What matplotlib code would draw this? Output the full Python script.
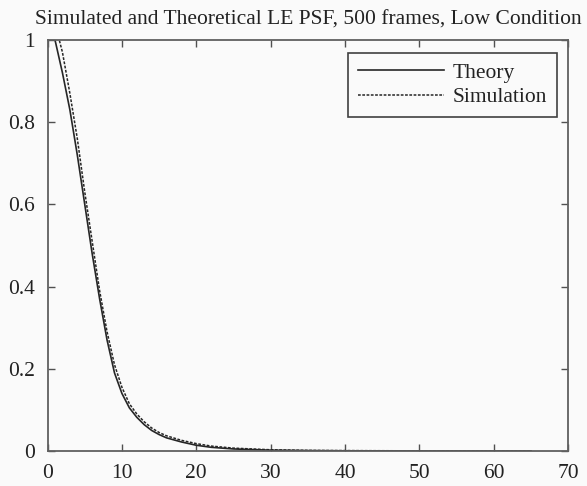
import matplotlib
matplotlib.use("Agg")
import matplotlib.pyplot as plt

theory_x = [0, 1, 2, 3, 4, 5, 6, 7, 8, 9, 10, 11, 12, 13, 14, 15, 16, 18, 20, 22, 25, 30, 35, 40, 50, 65]
theory_y = [1.06, 1.0, 0.92, 0.83, 0.72, 0.60, 0.48, 0.37, 0.27, 0.19, 0.14, 0.105, 0.082, 0.064,
            0.05, 0.04, 0.032, 0.022, 0.014, 0.009, 0.005, 0.002, 0.001, 0.0005, 0.0002, 0.0001]
sim_x = [0, 1, 2, 3, 4, 5, 6, 7, 8, 9, 10, 11, 12, 13, 14, 15, 16, 18, 20, 22, 25, 30, 35, 40, 50, 65]
sim_y = [1.12, 1.04, 0.97, 0.87, 0.76, 0.63, 0.51, 0.39, 0.29, 0.21, 0.155, 0.115, 0.09, 0.071,
         0.056, 0.045, 0.037, 0.026, 0.018, 0.012, 0.007, 0.003, 0.0015, 0.001, 0.0004, 0.0002]
xticks = [0, 10, 20, 30, 40, 50, 60, 70]
yticks = [0, 0.2, 0.4, 0.6, 0.8, 1]
ytick_labels = ["0", "0.2", "0.4", "0.6", "0.8", "1"]

plt.rcParams['font.family'] = ['Liberation Serif', 'DejaVu Serif']
fig = plt.figure(figsize=(5.87, 4.86), dpi=100, facecolor='#fafafa')
ax = fig.add_axes([0.081, 0.072, 0.887, 0.846])
ax.set_facecolor('#fafafa')
ax.plot(theory_x, theory_y, color='#262626', lw=1.2, ls='-', label='Theory')
ax.plot(sim_x, sim_y, color='#262626', lw=1.1, ls=(0, (1.8, 1)), label='Simulation')
ax.set_xlim(0, 70)
ax.set_ylim(0, 1)
ax.set_xticks(xticks)
ax.set_xticklabels([str(t) for t in xticks])
ax.set_yticks(yticks)
ax.set_yticklabels(ytick_labels)
ax.tick_params(direction='in', top=True, right=True, length=5, width=1, color='#505050',
               labelsize=15.5, labelcolor='#222222')
ax.tick_params(axis='x', pad=9)
ax.tick_params(axis='y', pad=9)
for s in ax.spines.values():
    s.set_color('#606060')
    s.set_linewidth(1.3)
ax.set_title('Simulated and Theoretical LE PSF, 500 frames, Low Condition', fontsize=15.5,
             pad=11, color='#222222')
leg = ax.legend(loc='upper right', fontsize=15.5, frameon=True, fancybox=False,
                edgecolor='#404040', facecolor='#fafafa', framealpha=1,
                handlelength=4.0, handletextpad=0.4, borderpad=0.45, labelspacing=0.2,
                bbox_to_anchor=(0.999, 0.994))
leg.get_frame().set_linewidth(1.2)
for t in leg.get_texts():
    t.set_color('#222222')
fig.savefig('out.png', dpi=100, facecolor=fig.get_facecolor())
